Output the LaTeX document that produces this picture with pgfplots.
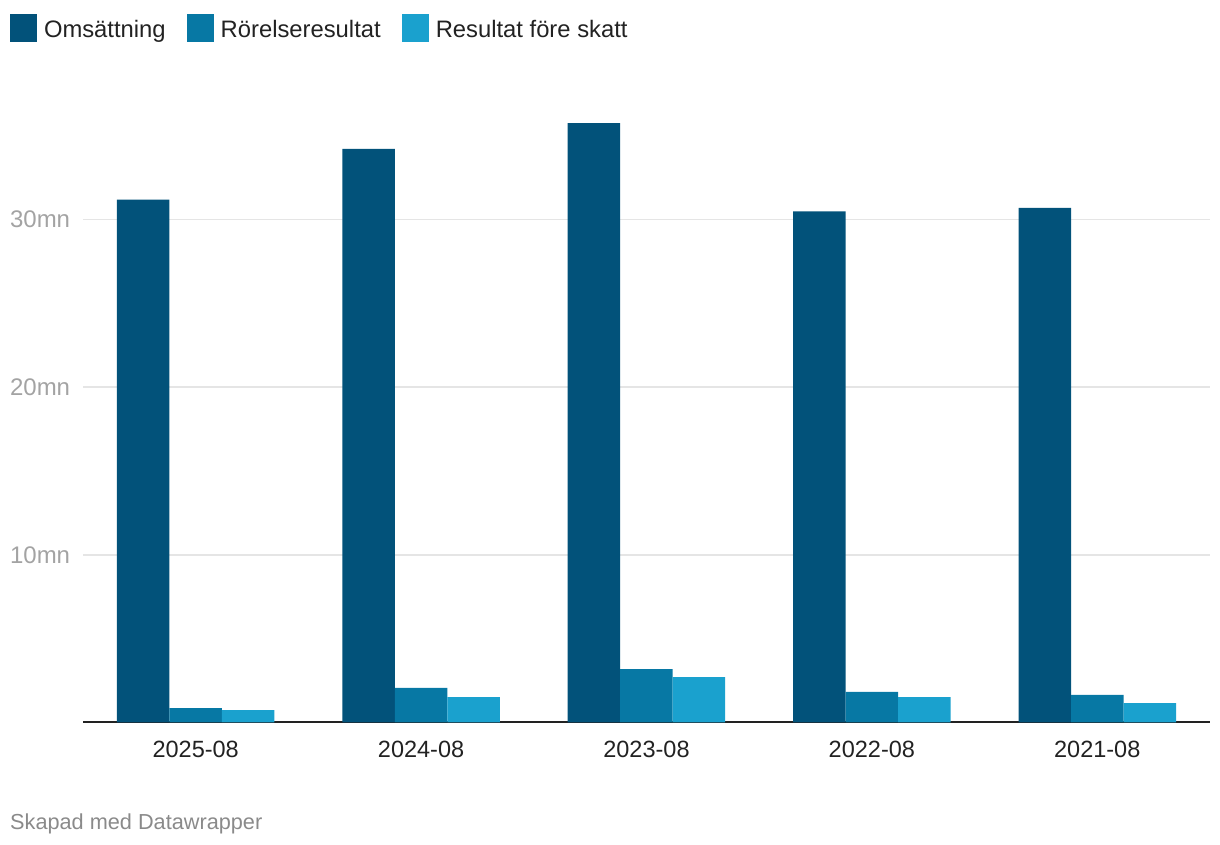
\documentclass[border=0pt]{standalone}
\usepackage{fontspec}
\setmainfont{Liberation Sans}
\usepackage{pgfplots}
\pgfplotsset{compat=1.18}
\definecolor{c1}{HTML}{02527A}
\definecolor{c2}{HTML}{0778A4}
\definecolor{c3}{HTML}{1AA1CE}
\definecolor{gridc}{HTML}{E5E5E5}
\definecolor{ticklab}{HTML}{A3A3A3}
\definecolor{txt}{HTML}{222222}
\definecolor{foot}{HTML}{8A8A8A}
\begin{document}
\begin{tikzpicture}
\useasboundingbox (0,0) rectangle (1220pt,844pt);
\begin{axis}[
  at={(83pt,121.7pt)}, anchor=south west,
  scale only axis, width=1127pt, height=619.9pt,
  xmin=-0.5, xmax=4.5, ymin=0, ymax=37,
  ybar=0pt, bar width=52.5pt,
  axis x line=bottom, axis y line=left,
  x axis line style={-, color=txt, line width=1.8pt},
  y axis line style={draw=none},
  xtick=data, xticklabels={2025-08,2024-08,2023-08,2022-08,2021-08},
  xtick style={draw=none}, ytick style={draw=none},
  xticklabel style={anchor=north, inner sep=0pt, yshift=-16pt, font=\fontsize{23.5}{28}\selectfont, color=txt},
  ytick={10,20,30}, yticklabels={10mn,20mn,30mn},
  yticklabel style={anchor=west, inner sep=0pt, xshift=-71pt, font=\fontsize{24}{28}\selectfont, color=ticklab},
  ymajorgrids, grid style={color=gridc, line width=1.5pt},
  legend columns=3,
  legend style={at={(axis description cs:-0.06477,1.12)}, anchor=west, draw=none, fill=none,
    inner sep=0pt, outer sep=0pt, nodes={inner sep=0pt},
    font=\fontsize{23.8}{28}\selectfont, text=txt,
    /tikz/every odd column/.append style={column sep=7pt},
    /tikz/every even column/.append style={column sep=21pt}},
  legend image code/.code={\fill[#1] (0pt,-12pt) rectangle (27pt,16pt);},
]
\addplot[fill=c1, draw=none] coordinates {(0,31.2) (1,34.22) (2,35.77) (3,30.5) (4,30.7)};
\addplot[fill=c2, draw=none] coordinates {(0,0.85) (1,2.05) (2,3.18) (3,1.81) (4,1.63)};
\addplot[fill=c3, draw=none] coordinates {(0,0.73) (1,1.51) (2,2.70) (3,1.51) (4,1.15)};
\legend{Omsättning, Rörelseresultat, Resultat före skatt}
\end{axis}
\node[anchor=base west, inner sep=0pt, text=foot, font=\fontsize{21.7}{26}\selectfont] at (10pt,15pt) {Skapad med Datawrapper};
\end{tikzpicture}
\end{document}
